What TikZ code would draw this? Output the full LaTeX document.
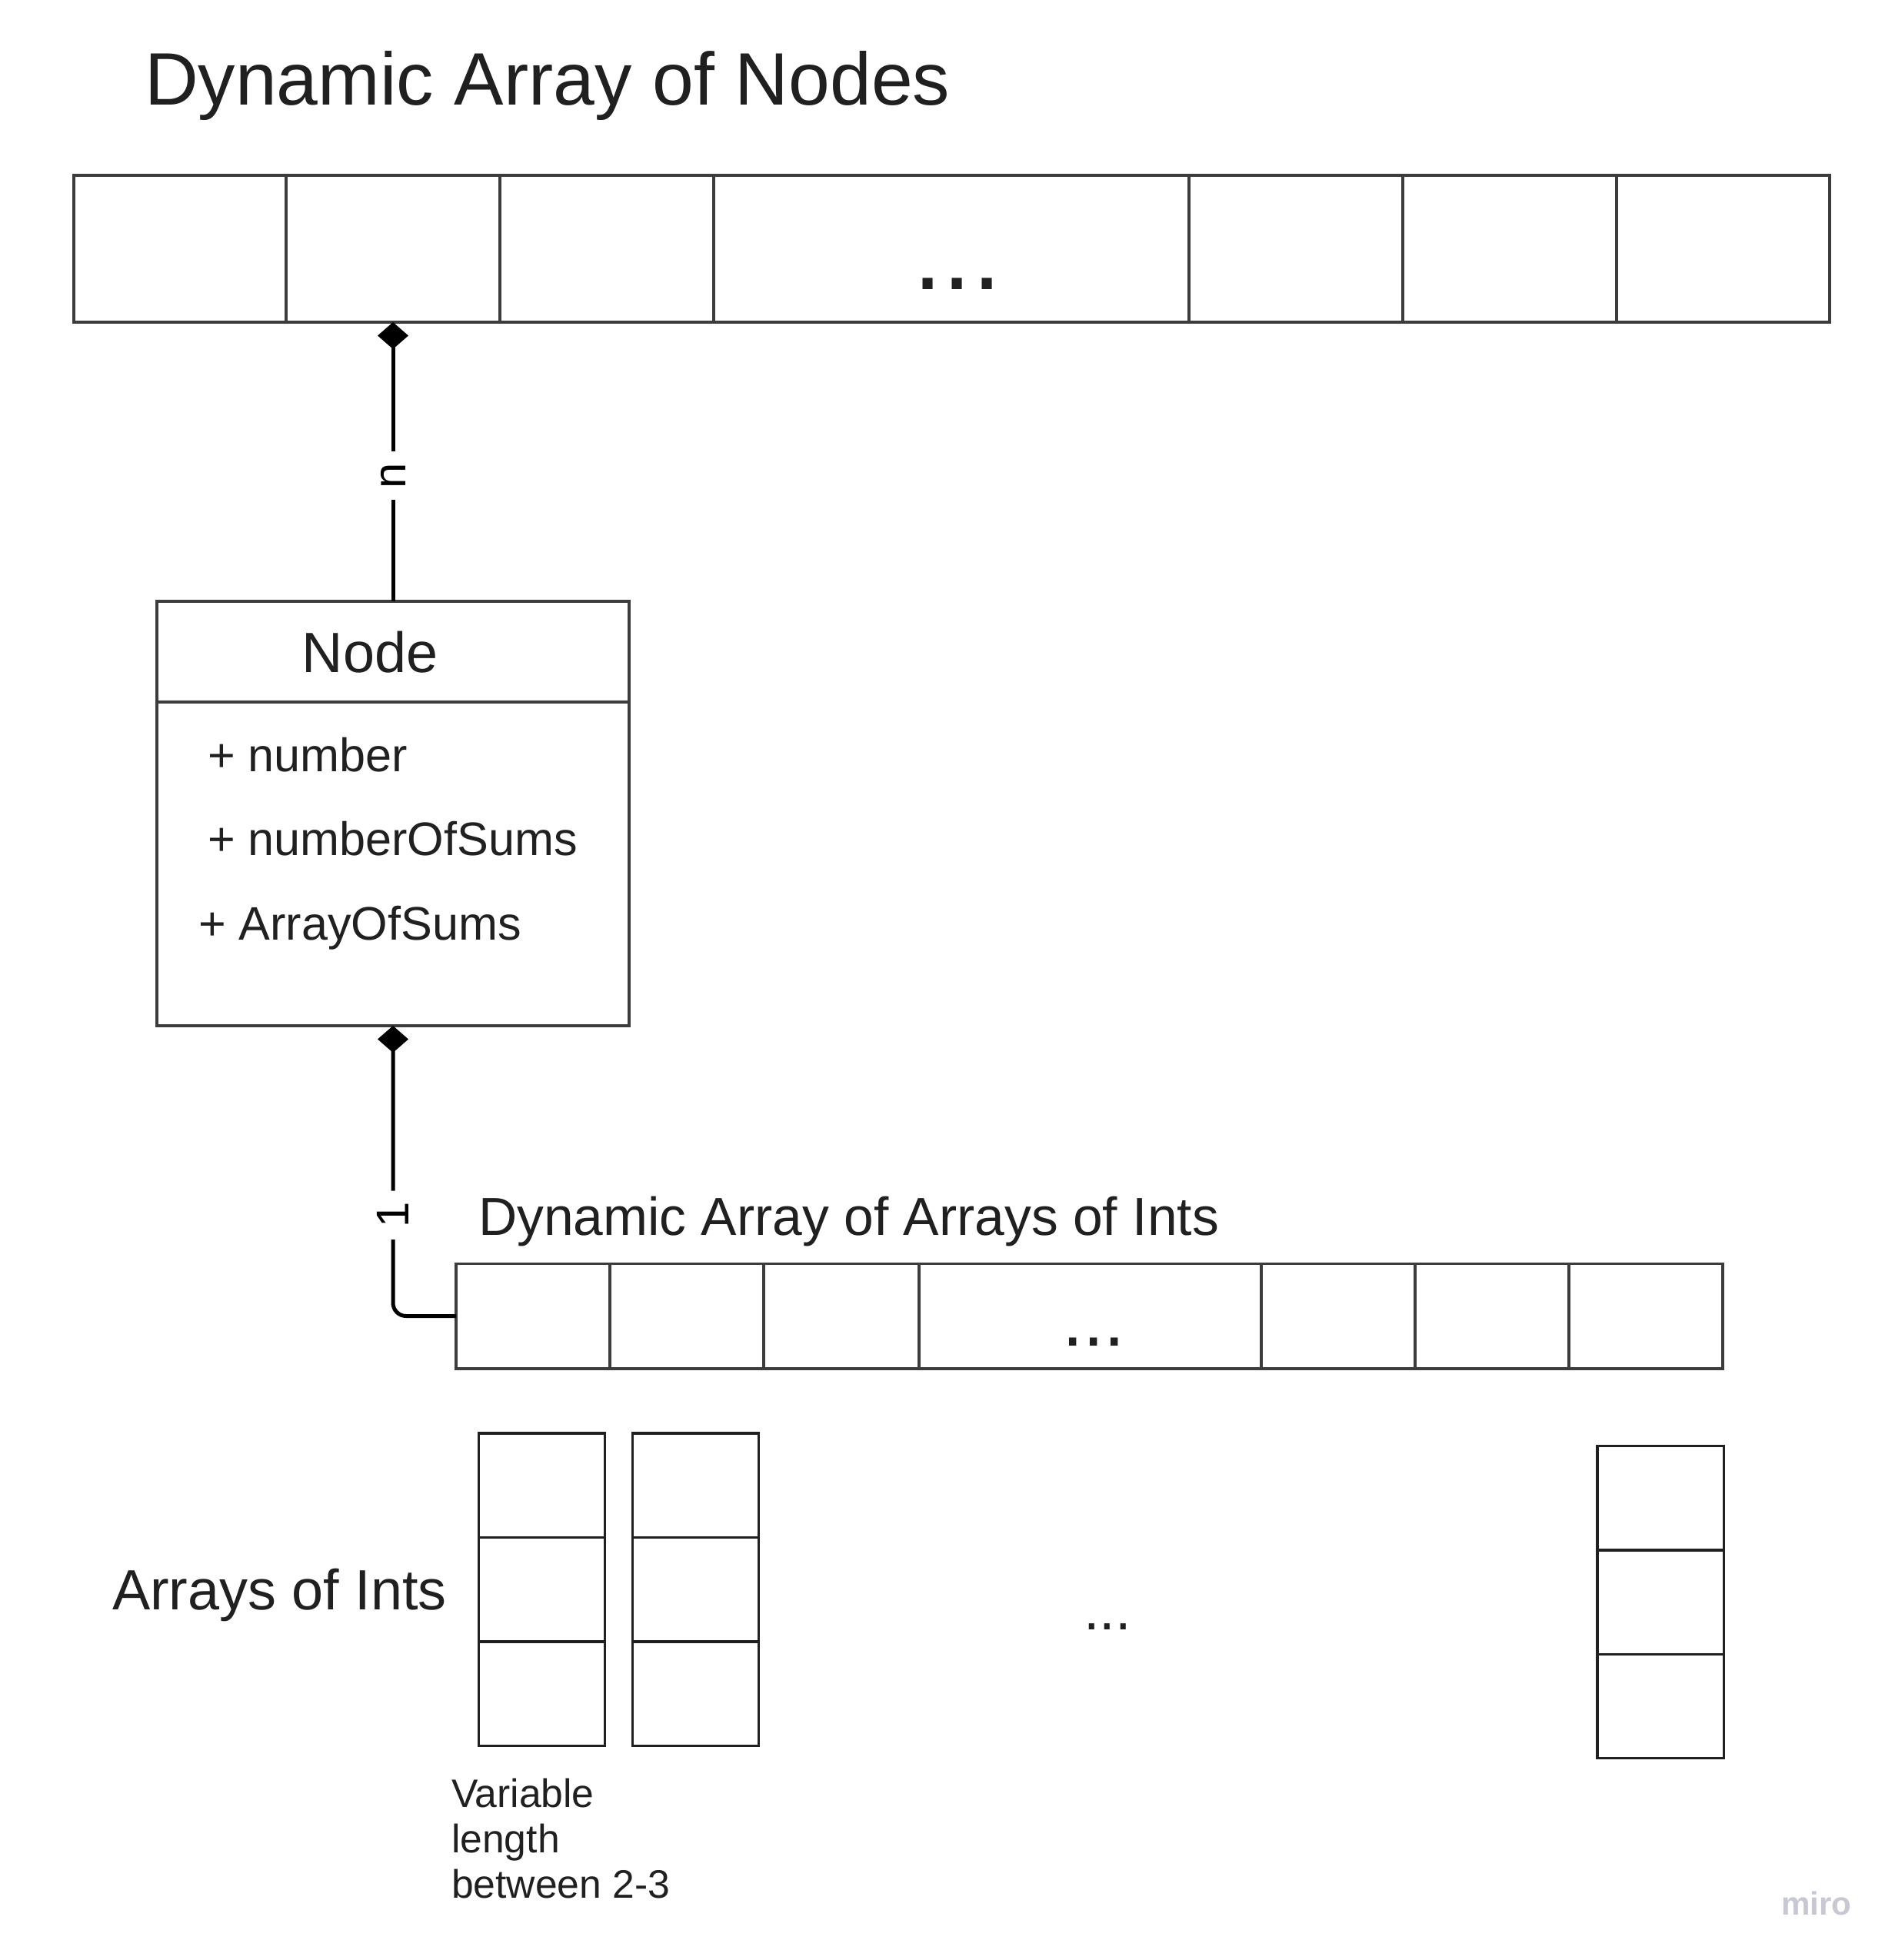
\documentclass[tikz,border=0pt]{standalone}
\usepackage{fontspec}
\setmainfont{Liberation Sans}
\usetikzlibrary{arrows.meta}
\definecolor{linegray}{RGB}{60,60,60}
\definecolor{textgray}{RGB}{32,32,32}
\definecolor{mirogray}{RGB}{200,200,212}

\begin{document}
\begin{tikzpicture}[
    cell/.style={draw=linegray, line width=0.035cm, inner sep=0pt, outer sep=0pt},
    colcell/.style={cell, draw=textgray, minimum width=1.641cm, minimum height=1.354cm},
    txt/.style={inner sep=0pt, outer sep=0pt, text=textgray},
    link/.style={line width=0.05cm, black},
    mult/.style={fill=white, rotate=90, inner xsep=0.15cm, inner ysep=0.02cm,
        font=\fontsize{17pt}{20pt}\selectfont},
    comp/.tip={Diamond[length=0.35cm, width=0.40cm]}
]
        \useasboundingbox (0,0) rectangle (24.51,-25.49);

        % Titulo
        \node[txt, anchor=base west, font=\fontsize{27.5pt}{33pt}\selectfont] (title) at (1.88,-1.37) {Dynamic Array of Nodes};

        % Arreglo de nodos
        \foreach \name/\xl/\xr in {t1/0.96/3.72, t2/3.72/6.50, t3/6.50/9.28, tdots/9.28/15.46, t5/15.46/18.24, t6/18.24/21.02, t7/21.02/23.79}
            \node[cell, minimum width=\xr cm-\xl cm, minimum height=1.91cm] (\name) at ({(\xl+\xr)/2},-3.235) {};
        \node[txt, anchor=base, font=\fontsize{39pt}{44pt}\selectfont] (topdots) at (12.45,-3.76) {...};

        % Clase Node
        \node[cell, minimum width=6.14cm, minimum height=5.52cm] (nodebox) at (5.11,-10.58) {};
        \draw[linegray, line width=0.035cm] (nodebox.west |- 0,-9.13) -- (nodebox.east |- 0,-9.13);
        \node[txt, anchor=base, font=\fontsize{21pt}{25pt}\selectfont] (nodename) at (4.81,-8.74) {Node};
        \node[txt, anchor=base west, font=\fontsize{17.4pt}{21pt}\selectfont] (attr1) at (2.70,-10.03) {+ number};
        \node[txt, anchor=base west, font=\fontsize{17.4pt}{21pt}\selectfont] (attr2) at (2.70,-11.12) {+ numberOfSums};
        \node[txt, anchor=base west, font=\fontsize{17.4pt}{21pt}\selectfont] (attr3) at (2.58,-12.22) {+ ArrayOfSums};

        % Arreglo de arreglos
        \node[txt, anchor=base west, font=\fontsize{19.8pt}{23pt}\selectfont] (subtitle) at (6.22,-16.06) {Dynamic Array of Arrays of Ints};
        \foreach \name/\xl/\xr in {a1/5.93/7.93, a2/7.93/9.93, a3/9.93/11.95, adots/11.95/16.40, a5/16.40/18.40, a6/18.40/20.40, a7/20.40/22.40}
            \node[cell, minimum width=\xr cm-\xl cm, minimum height=1.365cm] (\name) at ({(\xl+\xr)/2},-17.115) {};
        \node[txt, anchor=base, font=\fontsize{28pt}{32pt}\selectfont] (arrdots) at (14.22,-17.50) {...};

        % Conexiones
        \draw[link, {comp}-] (t2.south) -- node[mult, pos=0.55] (nmult) {n} (nodebox.north);
        \draw[link, rounded corners=0.17cm, {comp}-] (nodebox.south) |- node[mult, pos=0.326] (onemult) {1} (a1.west);

        % Arreglos de enteros
        \node[txt, anchor=base west, font=\fontsize{21pt}{25pt}\selectfont] (intslabel) at (1.46,-20.93) {Arrays of Ints};
        \foreach \col/\x/\ytop in {c1/7.046/18.642, c2/9.045/18.642, c3/21.592/18.805}
            \foreach \i in {1,2,3}
                \node[colcell] (\col-\i) at (\x,{-\ytop-(\i-0.5)*1.354}) {};
        \node[txt, anchor=base, font=\fontsize{21pt}{25pt}\selectfont] (coldots) at (14.40,-21.19) {...};
        \node[txt, anchor=base west, align=left, font=\fontsize{14.7pt}{16.75pt}\selectfont] (varlen) at (5.87,-24.68) {Variable\\length\\between 2-3};

        % Marca de agua
        \node[txt, text=mirogray, anchor=base west, font=\fontsize{12pt}{14pt}\selectfont\bfseries] (miro) at (23.16,-24.90) {miro};
    \end{tikzpicture}
\end{document}
